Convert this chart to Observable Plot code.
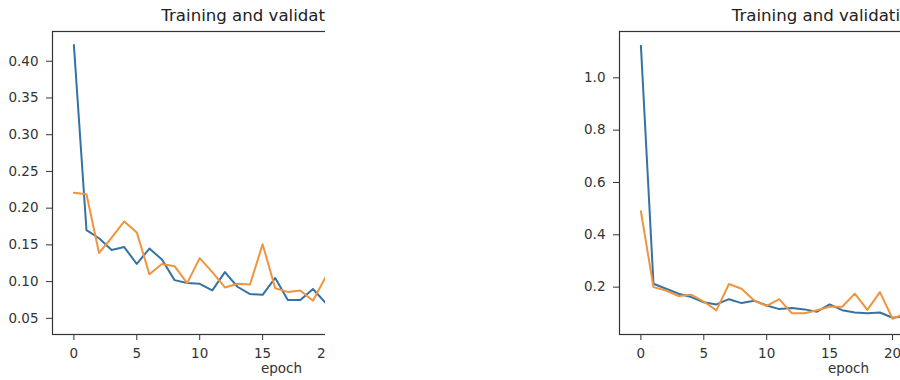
<!DOCTYPE html>
<html><head><meta charset="utf-8">
<script src="https://cdn.jsdelivr.net/npm/d3@7"></script>
<script src="https://cdn.jsdelivr.net/npm/@observablehq/plot@0.6"></script>
<style>
body{margin:0;background:#fff;width:900px;height:380px;overflow:hidden;font-family:"DejaVu Sans",sans-serif;position:relative;}
.panel{position:absolute;top:0;height:380px;overflow:hidden;}
.title{position:absolute;top:8px;right:0;font-size:16.6px;line-height:16px;color:#222;white-space:nowrap;font-family:"DejaVu Sans",sans-serif;}
.panel svg{position:absolute;top:0;left:0;max-width:none !important;height:380px !important;}
</style></head><body>
<div id="left" class="panel" style="left:0;width:325px"></div>
<div id="right" class="panel" style="left:560px;width:340px"></div>
<script>
const epochs = [0,1,2,3,4,5,6,7,8,9,10,11,12,13,14,15,16,17,18,19,20,21];
const leftTrain = [0.422,0.170,0.159,0.143,0.147,0.124,0.145,0.130,0.102,0.098,0.097,0.088,0.113,0.093,0.083,0.082,0.105,0.075,0.075,0.090,0.071,0.068];
const leftVal   = [0.221,0.219,0.139,0.160,0.182,0.167,0.110,0.124,0.121,0.098,0.132,0.113,0.092,0.097,0.096,0.151,0.091,0.086,0.088,0.074,0.106,0.088];
const rightTrain = [1.123,0.213,0.194,0.175,0.162,0.142,0.134,0.154,0.139,0.148,0.130,0.116,0.120,0.115,0.106,0.134,0.112,0.103,0.100,0.103,0.083,0.090];
const rightVal   = [0.490,0.200,0.187,0.166,0.171,0.145,0.111,0.212,0.194,0.149,0.128,0.154,0.100,0.100,0.112,0.125,0.125,0.175,0.113,0.181,0.079,0.100];
const leftTicks = [0.05,0.10,0.15,0.20,0.25,0.30,0.35,0.40];
const rightTicks = [0.2,0.4,0.6,0.8,1.0];
const xTicks = [0,5,10,15,20];
const titles = ["Training and validat","Training and validati"];
const xLabel = "epoch";
const seriesColors = ["#3473a4","#f0943e"];

function panel(train, val, yDomain, yTicks, yFmt, marginLeft) {
  const rows = epochs.map((e,i)=>({epoch:e, train:train[i], val:val[i]}));
  const w = marginLeft + 458 + 12;
  const svg = Plot.plot({
    width: w, height: 380,
    marginLeft, marginRight: 12, marginTop: 31, marginBottom: 46,
    style: {fontFamily:"DejaVu Sans", fontSize:"13.5px", color:"#333", background:"transparent"},
    x: {domain:[-1.7,34.7], ticks:xTicks, tickSize:6, tickPadding:8, label:xLabel, labelAnchor:"center", labelArrow:"none", labelOffset:38},
    y: {domain:yDomain, ticks:yTicks, tickFormat:yFmt, tickSize:6, tickPadding:8, label:null},
    marks: [
      Plot.frame({stroke:"#333", strokeWidth:1.2}),
      Plot.lineY(rows, {x:"epoch", y:"train", stroke:seriesColors[0], strokeWidth:2, clip:true}),
      Plot.lineY(rows, {x:"epoch", y:"val", stroke:seriesColors[1], strokeWidth:2, clip:true})
    ]
  });
  svg.style.width = w + "px";
  return svg;
}

function addTitle(el, text){
  const d = document.createElement("div");
  d.className = "title"; d.textContent = text; el.appendChild(d);
}
const L = document.getElementById("left");
L.appendChild(panel(leftTrain, leftVal, [0.028,0.4405], leftTicks, ".2f", 52));
addTitle(L, titles[0]);
const R = document.getElementById("right");
R.appendChild(panel(rightTrain, rightVal, [0.019,1.177], rightTicks, ".1f", 59));
addTitle(R, titles[1]);
</script>
</body></html>
